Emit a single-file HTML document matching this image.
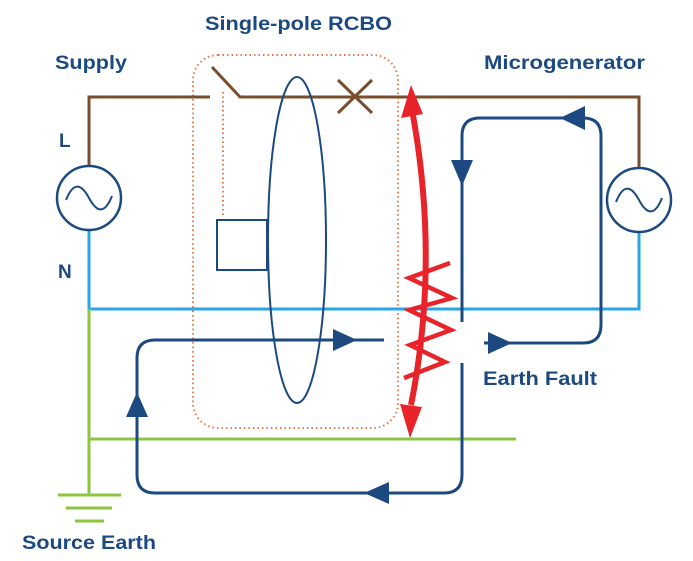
<!DOCTYPE html>
<html><head><meta charset="utf-8"><style>body{margin:0;background:#fff}svg{display:block}</style></head><body>
<svg width="693" height="561" viewBox="0 0 693 561" xmlns="http://www.w3.org/2000/svg" font-family="Liberation Sans, sans-serif" font-weight="bold" fill="#1c4a80">
<text x="205" y="30" font-size="19" textLength="187" lengthAdjust="spacingAndGlyphs">Single-pole RCBO</text>
<text x="55" y="69" font-size="19" textLength="72" lengthAdjust="spacingAndGlyphs">Supply</text>
<text x="484" y="69" font-size="19" textLength="161" lengthAdjust="spacingAndGlyphs">Microgenerator</text>
<text x="59" y="147" font-size="19">L</text>
<text x="58" y="278" font-size="19">N</text>
<text x="483" y="385" font-size="19" textLength="114" lengthAdjust="spacingAndGlyphs">Earth Fault</text>
<text x="22" y="549" font-size="19" textLength="134" lengthAdjust="spacingAndGlyphs">Source Earth</text>
<g fill="none">
<rect x="193" y="55" width="205" height="373" rx="25" stroke="#e8784a" stroke-width="2" stroke-dasharray="1.5 3"/>
<line x1="223" y1="92" x2="223" y2="215" stroke="#e8784a" stroke-width="2" stroke-dasharray="1.5 3"/>
<path d="M89 166V97H210M212 67L240 97H639V167" stroke="#7a4e2d" stroke-width="3"/>
<path d="M338 80L372 113M372 80L338 113" stroke="#7a4e2d" stroke-width="3"/>
<path d="M89 230V309H639V232" stroke="#2aa7e0" stroke-width="3"/>
<path d="M89 309V495M89 439H516M58 495H121M66 508H112M75 521H104" stroke="#8cc63f" stroke-width="3"/>
<circle cx="89" cy="198" r="32" stroke="#1c4a80" stroke-width="2.5"/>
<circle cx="639" cy="200" r="32" stroke="#1c4a80" stroke-width="2.5"/>
<path d="M66 200C74 180 82 185 89 198S104 216 112 196" stroke="#1c4a80" stroke-width="2"/>
<path d="M616 202C624 182 632 187 639 200S654 218 662 198" stroke="#1c4a80" stroke-width="2"/>
<ellipse cx="297" cy="240" rx="29" ry="163" stroke="#1c4a80" stroke-width="2"/>
<rect x="217" y="220" width="50" height="50" stroke="#1c4a80" stroke-width="2"/>
<path d="M384 340H155Q137 340 137 358V475Q137 493 155 493H444Q462 493 462 475V363" stroke="#1c4a80" stroke-width="3"/>
<path d="M462 322V136Q462 118 480 118H583Q601 118 601 136V325Q601 343 583 343H484" stroke="#1c4a80" stroke-width="3"/>
<path d="M412 110Q440 260 411 405" stroke="#e8242a" stroke-width="6"/>
<path d="M450 263L409 278L452 298L409 310L451 330L410 345L445 362L404 378" stroke="#e8242a" stroke-width="4.5" stroke-linejoin="miter"/>
</g>
<g fill="#1c4a80">
<polygon points="333,329 333,351 357,340"/>
<polygon points="126,417 148,417 137,392"/>
<polygon points="389,482 389,504 364,493"/>
<polygon points="451,160 473,160 462,186"/>
<polygon points="585,106 585,130 560,118"/>
<polygon points="488,332 488,354 512,343"/>
</g>
<g fill="#e8242a">
<polygon points="401,118 423,114 411,85"/>
<polygon points="400,404 422,407 410,438"/>
</g>
</svg>
</body></html>
